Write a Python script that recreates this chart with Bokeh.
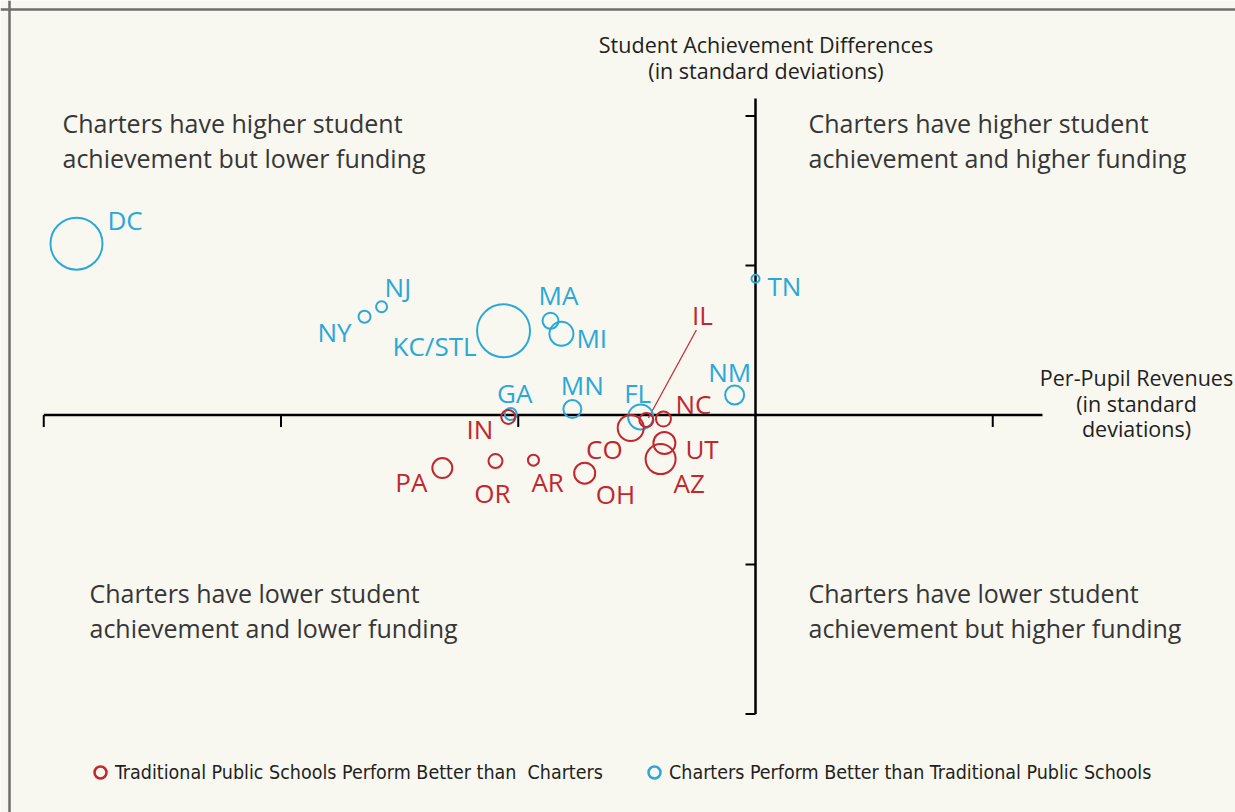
import math
from bokeh.plotting import figure
from bokeh.models import ColumnDataSource, Range1d, Span, Legend, LegendItem
from bokeh.core.properties import value
from bokeh.embed import file_html
from bokeh.resources import INLINE

# ---------------- data ----------------
blue_states = ["DC", "NJ", "NY", "KC/STL", "MA", "MI", "GA", "MN", "FL", "NM", "TN"]
blue_revenue = [-1.431, -0.788, -0.824, -0.531, -0.432, -0.409, -0.516, -0.386, -0.242, -0.044, 0.000]
blue_achieve = [0.1146, 0.0724, 0.0657, 0.0563, 0.0630, 0.0543, 0.0007, 0.0040, -0.0013, 0.0134, 0.0911]
blue_bubble = [52, 11, 12, 53, 16, 24, 12, 18, 25, 19, 8]

red_states = ["IN", "IL", "NC", "CO", "UT", "AZ", "OH", "AR", "OR", "PA"]
red_revenue = [-0.521, -0.230, -0.194, -0.263, -0.192, -0.200, -0.360, -0.468, -0.548, -0.660]
red_achieve = [-0.0013, -0.0034, -0.0027, -0.0087, -0.0188, -0.0295, -0.0389, -0.0302, -0.0308, -0.0355]
red_bubble = [14, 14, 15, 26, 22, 30, 21, 11, 14, 20]

x_ticks = [-1.5, -1.0, -0.5, 0.0, 0.5]
y_ticks = [-0.2, -0.1, 0.0, 0.1, 0.2]

quadrant_texts = [
    ("Charters have higher student", "achievement but lower funding"),
    ("Charters have higher student", "achievement and higher funding"),
    ("Charters have lower student", "achievement and lower funding"),
    ("Charters have lower student", "achievement but higher funding"),
]
y_title = ["Student Achievement Differences", "(in standard deviations)"]
x_title = ["Per-Pupil Revenues", "(in standard", "deviations)"]
legend_red = "Traditional Public Schools Perform Better than  Charters"
legend_blue = "Charters Perform Better than Traditional Public Schools"

# ---------------- styles / layout ----------------
W, H = 1235, 812
BG = "#F8F7F0"
BLUE = "#2AA8D8"
RED = "#C1272D"
INK = "#231F20"
QUAD = "#363636"
XS = 474.5      # px per x unit
YS = 1495.0     # px per y unit
OX, OY = 755.0, 414.5   # px of origin (from left / from top)

X0, X1 = -OX / XS, (W - OX) / XS
Y1, Y0 = OY / YS, -(H - OY) / YS

def dx(px):  # px from left -> data x
    return (px - OX) / XS

def dy(py):  # px from top -> data y
    return (OY - py) / YS

# label offsets in screen px: (dx, dy, align)
label_style = {
    "DC": (31, -24, "left"), "NJ": (3, -20, "left"), "NY": (-13, 15, "right"),
    "KC/STL": (-27, 15, "right"), "MA": (8, -26, "center"), "MI": (15, 4, "left"),
    "GA": (4, -21, "center"), "MN": (10, -24, "center"), "FL": (-3, -24, "center"),
    "NM": (-5, -23, "center"), "TN": (12, 7, "left"),
    "IN": (-15, 12, "right"), "IL": (56, -105, "center"), "NC": (12, -15, "left"),
    "CO": (-8, 21, "right"), "UT": (21, 6, "left"), "AZ": (13, 24, "left"),
    "OH": (11, 21, "left"), "AR": (-2, 22, "left"), "OR": (-3, 32, "center"),
    "PA": (-15, 14, "right"),
}

p = figure(width=W, height=H, x_range=Range1d(X0, X1), y_range=Range1d(Y0, Y1),
           output_backend="svg", toolbar_location=None,
           x_axis_location=None, y_axis_location=None, min_border=0,
           background_fill_color=BG, border_fill_color=BG, outline_line_color=None)
p.grid.visible = False

# frame border (left & top only, the rest is cut off in the reference)
p.add_layout(Span(location=dx(9), dimension="height", line_color="#6E6E6E", line_width=2.5))
p.add_layout(Span(location=dy(9), dimension="width", line_color="#6E6E6E", line_width=2.5))

# axes
p.segment(x0=[x_ticks[0]], y0=[0], x1=[dx(1042)], y1=[0], line_color="black", line_width=2.5)
p.segment(x0=[0], y0=[y_ticks[0]], x1=[0], y1=[dy(98)], line_color="black", line_width=2.5)
xt = [t for t in x_ticks if t != 0]
yt = [t for t in y_ticks if t != 0]
p.ray(x=xt, y=[0] * len(xt), length=12, length_units="screen", angle=-math.pi / 2,
      line_color="black", line_width=2)
p.ray(x=[0] * len(yt), y=yt, length=10, length_units="screen", angle=math.pi,
      line_color="black", line_width=2)

def make_source(states, xs, ys, sizes):
    return ColumnDataSource(dict(
        state=states, x=xs, y=ys, size=sizes,
        xo=[label_style[s][0] for s in states],
        yo=[label_style[s][1] for s in states],
        align=[label_style[s][2] for s in states],
    ))

src_b = make_source(blue_states, blue_revenue, blue_achieve, blue_bubble)
src_r = make_source(red_states, red_revenue, red_achieve, red_bubble)

# IL leader line
il = red_states.index("IL")
ilx, ily = red_revenue[il], red_achieve[il]
p.segment(x0=[ilx + 2 / XS], y0=[ily + 2 / YS], x1=[ilx + 50 / XS], y1=[ily + 90 / YS],
          line_color=RED, line_width=1.2)

p.scatter("x", "y", size="size", marker="circle", source=src_b, fill_color=None,
          line_color=BLUE, line_width=2)
p.scatter("x", "y", size="size", marker="circle", source=src_r, fill_color=None,
          line_color=RED, line_width=2)

for src, col in ((src_b, BLUE), (src_r, RED)):
    p.text("x", "y", text="state", source=src, x_offset="xo", y_offset="yo",
           text_align="align", text_baseline="middle", text_color=col,
           text_font=value("Open Sans"), text_font_size="26px")

# quadrant annotations (left edge, centre of first line)
quad_pos = [(62, 122), (808, 122), (89, 592), (808, 592)]
for (l1, l2), (qx, qy) in zip(quadrant_texts, quad_pos):
    p.text(x=[dx(qx)] * 2, y=[dy(qy), dy(qy + 35)], text=[l1, l2], text_align="left",
           text_baseline="middle", text_color=QUAD,
           text_font=value("Open Sans"), text_font_size="25px")

# axis titles
p.text(x=[dx(765.5)] * 2, y=[dy(44), dy(70)], text=y_title, text_align="center",
       text_baseline="middle", text_color=INK,
       text_font=value("Open Sans"), text_font_size="21.5px")
p.text(x=[dx(1136)] * 3, y=[dy(377), dy(403), dy(428)], text=x_title, text_align="center",
       text_baseline="middle", text_color=INK,
       text_font=value("Open Sans"), text_font_size="21.5px")

# legends
nan = float("nan")
r_leg_red = p.scatter(x=[nan], y=[nan], size=12, marker="circle", fill_color=None,
                      line_color=RED, line_width=2.5)
r_leg_blue = p.scatter(x=[nan], y=[nan], size=12, marker="circle", fill_color=None,
                       line_color=BLUE, line_width=2.5)

def add_legend(label, rend, loc):
    lg = Legend(items=[LegendItem(label=label, renderers=[rend])], location=loc,
                orientation="horizontal", background_fill_alpha=0, border_line_color=None,
                padding=0, margin=0, spacing=0, glyph_width=30, glyph_height=30,
                label_standoff=0, label_text_font="DejaVu Sans Condensed, Roboto",
                label_text_font_size="19.5px", label_text_color=INK)
    p.add_layout(lg)

add_legend(legend_red, r_leg_red, (85, 25))
add_legend(legend_blue, r_leg_blue, (639, 25))

open("out.html", "w").write(file_html(p, INLINE))
